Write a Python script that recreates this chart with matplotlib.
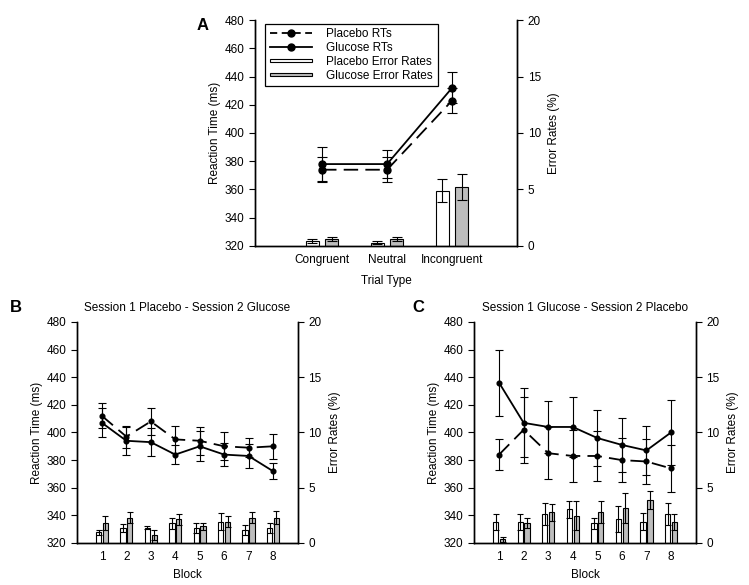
import matplotlib
matplotlib.use("Agg")
import matplotlib.pyplot as plt
import numpy as np
from matplotlib.legend_handler import HandlerPatch
from matplotlib.lines import Line2D
from matplotlib.patches import Patch, Rectangle

plt.rcParams["font.family"] = ["Liberation Sans", "DejaVu Sans"]
plt.rcParams["font.size"] = 8.5

GRAY = "#bdbdbd"

# panel A
trial_types = ["Congruent", "Neutral", "Incongruent"]
a_rt_placebo = [374, 374, 423]
a_rt_placebo_err = [9, 9, 9]
a_rt_glucose = [378, 378, 432]
a_rt_glucose_err = [12, 10, 11]
a_er_placebo = [0.45, 0.3, 4.9]
a_er_placebo_err = [0.15, 0.1, 1.0]
a_er_glucose = [0.6, 0.6, 5.25]
a_er_glucose_err = [0.2, 0.2, 1.15]

# panels B and C
blocks = [1, 2, 3, 4, 5, 6, 7, 8]

b_rt_placebo = [412, 397, 408, 395, 394, 390, 389, 390]
b_rt_placebo_err = [9, 8, 9.5, 9.5, 10, 10, 7, 9]
b_rt_glucose = [407, 394, 393, 384, 390, 384, 383, 372]
b_rt_glucose_err = [10.5, 10, 10, 7, 11, 8.5, 9, 6]
b_er_placebo = [0.95, 1.34, 1.4, 1.77, 1.34, 1.92, 1.16, 1.34]
b_er_placebo_err = [0.2, 0.35, 0.1, 0.5, 0.45, 0.75, 0.45, 0.45]
b_er_glucose = [1.8, 2.3, 0.76, 2.13, 1.52, 1.92, 2.3, 2.3]
b_er_glucose_err = [0.65, 0.5, 0.45, 0.5, 0.3, 0.5, 0.5, 0.6]

c_rt_placebo = [384, 402, 385, 383, 383, 380, 379, 374]
c_rt_placebo_err = [11, 24, 19, 18.5, 18, 16, 16.5, 17]
c_rt_glucose = [436, 407, 404, 404, 396, 391, 387, 400]
c_rt_glucose_err = [24, 25, 19, 21.5, 20.5, 19.5, 18, 23.5]
c_er_placebo = [1.92, 1.92, 2.6, 3.05, 1.77, 2.16, 1.92, 2.6]
c_er_placebo_err = [0.7, 0.7, 1.0, 0.75, 0.5, 1.15, 0.75, 1.0]
c_er_glucose = [0.33, 1.77, 2.77, 2.47, 2.77, 3.17, 3.87, 1.92]
c_er_glucose_err = [0.2, 0.45, 0.8, 1.3, 1.0, 1.35, 0.8, 0.7]


def thin_rect(legend, orig_handle, xdescent, ydescent, width, height, fontsize):
    return Rectangle((-xdescent, -ydescent + height * 0.3), width, height * 0.4)


def draw_panel(ax, x, rt_p, rt_p_err, rt_g, rt_g_err, er_p, er_p_err, er_g, er_g_err,
               xlim, bar_w, offs, msize, cap_line, cap_bar):
    ax2 = ax.twinx()
    x = np.asarray(x, dtype=float)

    ax2.bar(x - offs, er_p, bar_w, color="white", edgecolor="black", linewidth=0.8,
            yerr=er_p_err, error_kw=dict(ecolor="black", elinewidth=0.8, capsize=cap_bar, capthick=0.8))
    ax2.bar(x + offs, er_g, bar_w, color=GRAY, edgecolor="black", linewidth=0.8,
            yerr=er_g_err, error_kw=dict(ecolor="black", elinewidth=0.8, capsize=cap_bar, capthick=0.8))

    ax.errorbar(x, rt_p, yerr=rt_p_err, color="black", linestyle=(0, (8, 4)), linewidth=1.3,
                marker="o", markersize=msize, capsize=cap_line, elinewidth=0.8, capthick=0.8)
    ax.errorbar(x, rt_g, yerr=rt_g_err, color="black", linestyle="-", linewidth=1.3,
                marker="o", markersize=msize, capsize=cap_line, elinewidth=0.8, capthick=0.8)

    ax.set_zorder(ax2.get_zorder() + 1)
    ax.patch.set_visible(False)

    ax.set_xlim(*xlim)
    ax.set_ylim(320, 480)
    ax.set_yticks(range(320, 481, 20))
    ax2.set_ylim(0, 20)
    ax2.set_yticks(range(0, 21, 5))
    ax.set_ylabel("Reaction Time (ms)", labelpad=3)
    ax2.set_ylabel("Error Rates (%)", labelpad=5)

    for a in (ax, ax2):
        a.spines["top"].set_visible(False)
        for s in a.spines.values():
            s.set_linewidth(1.0)
        a.tick_params(axis="y", direction="out", length=4, width=0.8)
        a.tick_params(axis="x", length=0, pad=6)
    return ax2


fig = plt.figure(figsize=(7.49, 5.85), dpi=100)

axA = fig.add_axes([0.3405, 0.5795, 0.350, 0.3863])
draw_panel(axA, [1, 2, 3], a_rt_placebo, a_rt_placebo_err, a_rt_glucose, a_rt_glucose_err,
           a_er_placebo, a_er_placebo_err, a_er_glucose, a_er_glucose_err,
           xlim=(-0.03, 4.0), bar_w=0.2, offs=0.15, msize=5, cap_line=3.3, cap_bar=3.3)
axA.set_xticks([1, 2, 3])
axA.set_xticklabels(trial_types)
axA.set_xlabel("Trial Type", labelpad=6)

handles = [
    Line2D([], [], color="black", linestyle=(0, (4, 2.5)), linewidth=1.3, marker="o", markersize=5),
    Line2D([], [], color="black", linestyle="-", linewidth=1.3, marker="o", markersize=5),
    Patch(facecolor="white", edgecolor="black", linewidth=0.8),
    Patch(facecolor=GRAY, edgecolor="black", linewidth=0.8),
]
labels = ["Placebo RTs", "Glucose RTs", "Placebo Error Rates", "Glucose Error Rates"]
leg = axA.legend(handles, labels, loc="upper left", bbox_to_anchor=(0.015, 1.01),
                 frameon=True, fancybox=False, edgecolor="black", framealpha=1,
                 handlelength=3.6, handletextpad=1.2, labelspacing=0.15, borderpad=0.4,
                 handler_map={Patch: HandlerPatch(patch_func=thin_rect)})
leg.get_frame().set_linewidth(0.9)

axB = fig.add_axes([0.1028, 0.0718, 0.295, 0.3778])
draw_panel(axB, blocks, b_rt_placebo, b_rt_placebo_err, b_rt_glucose, b_rt_glucose_err,
           b_er_placebo, b_er_placebo_err, b_er_glucose, b_er_glucose_err,
           xlim=(-0.02, 9.02), bar_w=0.22, offs=0.14, msize=3.4, cap_line=2.9, cap_bar=2.0)
axB.set_xticks(blocks)
axB.set_xlabel("Block", labelpad=4)
axB.set_title("Session 1 Placebo - Session 2 Glucose", fontsize=8.5, pad=8)

axC = fig.add_axes([0.6329, 0.0718, 0.2964, 0.3778])
draw_panel(axC, blocks, c_rt_placebo, c_rt_placebo_err, c_rt_glucose, c_rt_glucose_err,
           c_er_placebo, c_er_placebo_err, c_er_glucose, c_er_glucose_err,
           xlim=(-0.02, 9.02), bar_w=0.22, offs=0.14, msize=3.4, cap_line=2.9, cap_bar=2.0)
axC.set_xticks(blocks)
axC.set_xlabel("Block", labelpad=4)
axC.set_title("Session 1 Glucose - Session 2 Placebo", fontsize=8.5, pad=8)

fig.text(197 / 749, 1 - 25 / 585, "A", fontsize=12, fontweight="bold", ha="left", va="center")
fig.text(10 / 749, 1 - 307 / 585, "B", fontsize=12, fontweight="bold", ha="left", va="center")
fig.text(412 / 749, 1 - 307 / 585, "C", fontsize=12, fontweight="bold", ha="left", va="center")

fig.savefig("out.png", dpi=100, facecolor="white")
